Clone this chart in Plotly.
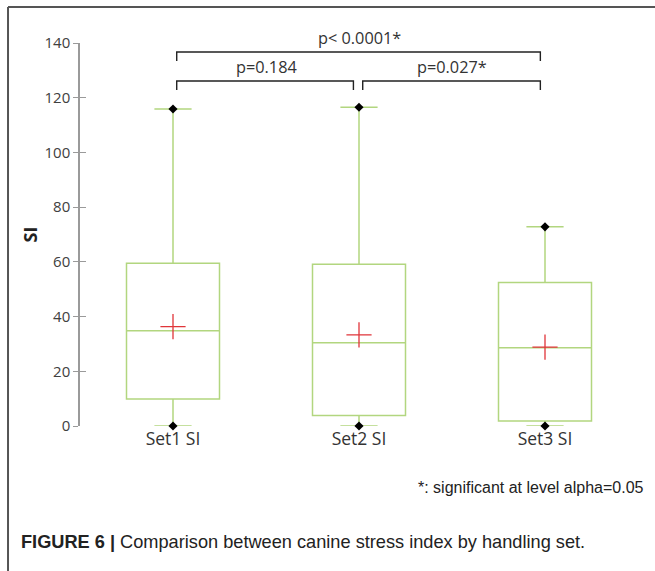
import plotly.graph_objects as go

categories = ["Set1 SI", "Set2 SI", "Set3 SI"]
minimum = [0, 0, 0]
q1 = [9.9, 3.8, 1.8]
median = [34.8, 30.4, 28.6]
q3 = [59.5, 59.1, 52.5]
maximum = [115.9, 116.5, 72.8]
mean = [36.3, 33.3, 28.8]
y_ticks = [0, 20, 40, 60, 80, 100, 120, 140]

# comparison brackets: (left index, right index, label, bracket level y, text y)
comparisons = [
    (0, 2, "p< 0.0001*", 136.7, 141.9),
    (0, 1, "p=0.184", 126.1, 131.3),
    (1, 2, "p=0.027*", 126.1, 131.3),
]

GREEN = "#b2d67f"


def ypaper(v):
    return v / 140.0


fig = go.Figure()

xs = list(range(len(categories)))
fig.add_trace(go.Box(
    x=xs, q1=q1, median=median, q3=q3,
    lowerfence=minimum, upperfence=maximum,
    width=0.5, whiskerwidth=0.4,
    line=dict(color=GREEN, width=1.5),
    fillcolor="rgba(255,255,255,0)",
    boxpoints=False, showlegend=False, hoverinfo="skip",
))
fig.add_trace(go.Scatter(
    x=xs + xs, y=minimum + maximum, mode="markers",
    marker=dict(symbol="diamond", size=7, color="black"),
    showlegend=False, cliponaxis=False,
))
fig.add_trace(go.Scatter(
    x=xs, y=mean, mode="markers",
    marker=dict(symbol="cross-thin", size=18, line=dict(color="#e0353a", width=1.3)),
    showlegend=False, cliponaxis=False,
))

# brackets
for a, b, label, ylev, ytext in comparisons:
    xa = a + 0.02
    xb = b - 0.03 if (b - a == 1 and a == 0) else b - 0.025
    fig.add_trace(go.Scatter(
        x=[xa, xa, xb, xb], y=[ylev - 3.3, ylev, ylev, ylev - 3.3],
        mode="lines", line=dict(color="#222222", width=1.4),
        showlegend=False, cliponaxis=False, hoverinfo="skip",
    ))
    fig.add_annotation(x=(a + b) / 2, y=ypaper(ytext), text=label, showarrow=False,
                       xanchor="center", yanchor="middle",
                       font=dict(family="Open Sans", size=16.3, color="#333333"),
                       xref="x", yref="paper")

fig.update_layout(
    width=655, height=571,
    margin=dict(l=80, r=17, t=43, b=145),
    paper_bgcolor="white", plot_bgcolor="white",
    xaxis=dict(
        range=[-0.5, 2.5], tickvals=xs, ticktext=categories,
        showline=False, showgrid=False, zeroline=False, ticks="",
        tickfont=dict(family="Open Sans", size=17.5, color="#333333"),
        fixedrange=True,
    ),
    yaxis=dict(
        range=[0, 140], tickvals=y_ticks, showgrid=False, zeroline=False,
        showline=True, linecolor="#9a9a9a", linewidth=1.5,
        ticks="outside", ticklen=5, tickcolor="#9a9a9a", tickwidth=1.3,
        tickfont=dict(family="Open Sans", size=15, color="#404040"),
        title=dict(text="<b>SI</b>", font=dict(family="Open Sans", size=18, color="#222222"), standoff=2),
    ),
    yaxis2=dict(
        range=[0, 140], tickvals=y_ticks, overlaying="y", side="left",
        showgrid=False, zeroline=False, showline=False, showticklabels=False,
        ticks="inside", ticklen=6, tickcolor="#9a9a9a", tickwidth=1.3,
    ),
)
fig.add_trace(go.Scatter(x=[None], y=[None], yaxis="y2", showlegend=False))

# frame lines (top and left)
fig.add_shape(type="line", xref="paper", yref="paper", x0=-0.129, x1=1.04, y0=1.094, y1=1.094,
              line=dict(color="#555555", width=2))
fig.add_shape(type="line", xref="paper", yref="paper", x0=-0.129, x1=-0.129, y0=1.094, y1=-0.40,
              line=dict(color="#555555", width=2))

fig.add_annotation(xref="paper", yref="paper", x=(646 - 80) / 558, y=(426 - 488) / 383,
                   xanchor="right", yanchor="middle", showarrow=False,
                   text="*: significant at level alpha=0.05",
                   font=dict(family="Liberation Sans", size=16, color="#222222"))
fig.add_annotation(xref="paper", yref="paper", x=(19 - 80) / 558, y=(426 - 541.5) / 383,
                   xanchor="left", yanchor="middle", showarrow=False,
                   text="<b>FIGURE 6 |</b> Comparison between canine stress index by handling set.",
                   font=dict(family="Liberation Sans", size=18.2, color="#222222"))

fig.write_html("out.html")
